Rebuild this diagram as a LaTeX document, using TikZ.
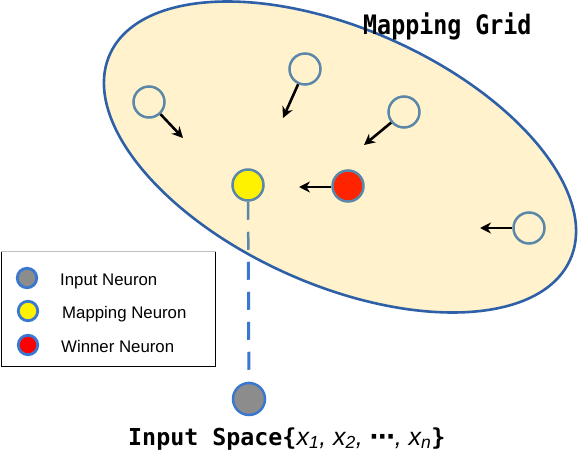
\documentclass[tikz,border=0pt]{standalone}
\usepackage{fontspec}
\setmainfont{Liberation Sans}
\newfontfamily\monof{DejaVu Sans Mono}
\newfontfamily\symf{DejaVu Sans}
\usetikzlibrary{arrows.meta}
\definecolor{ellfillc}{HTML}{FFF2CC}
\definecolor{elldraw}{HTML}{2E60A8}
\definecolor{neurgray}{HTML}{5B87A8}
\definecolor{legblue}{HTML}{3A78D0}
\definecolor{inpgray}{HTML}{8C8C8C}
\definecolor{mapyel}{HTML}{FFF200}
\definecolor{winred}{HTML}{FF2400}
\pgfdeclarelayer{lineback}
\pgfdeclarelayer{ellfilllayer}
\pgfdeclarelayer{linefront}
\pgfsetlayers{lineback,ellfilllayer,linefront,main}
\tikzset{
  neuron/.style={circle, draw=neurgray, line width=2.5pt, minimum size=31pt, inner sep=0pt},
  legneuron/.style={circle, draw=legblue, line width=2.8pt, minimum size=19.5pt, inner sep=0pt},
  moverarrow/.style={line width=2.6pt, -{Stealth[length=11pt,width=11pt]}},
  dashline/.style={line width=3pt, dash pattern=on 18pt off 12pt},
  legtext/.style={anchor=base west, inner sep=0pt, font=\fontsize{16.8}{19}\selectfont},
  monotext/.style={anchor=base west, inner sep=0pt, font=\fontsize{23.3}{28}\monof\bfseries},
  gridellipse/.style={rotate around={-24:(340,157)}}
}
\begin{document}
\begin{tikzpicture}[x=1pt,y=-1pt]
\useasboundingbox (0,0) rectangle (578,452);

% ellipse (fill on its own layer)
\begin{pgfonlayer}{ellfilllayer}
\fill[ellfillc, gridellipse] (340,157) ellipse [x radius=252pt, y radius=128pt];
\end{pgfonlayer}
\draw[elldraw, line width=2.6pt, gridellipse] (340,157) ellipse [x radius=252pt, y radius=128pt];

% neurons in the grid
\node[neuron] (n1) at (149,102) {};
\node[neuron] (n2) at (305,69) {};
\node[neuron] (n3) at (404,112) {};
\node[neuron] (n5) at (529,228) {};
\node[neuron, fill=mapyel] (map) at (248,185) {};
\node[neuron, fill=winred] (win) at (348,186) {};

% input neuron
\node[circle, draw=legblue, line width=2.5pt, minimum size=32pt, inner sep=0pt, fill=inpgray] (inp) at (249,399) {};

% arrow tips
\coordinate (t1) at (183,138);
\coordinate (t2) at (283,118);
\coordinate (t3) at (364,145);
\coordinate (t4) at (299,187);
\coordinate (t5) at (480,228);

\draw[moverarrow] (n1) -- (t1);
\draw[moverarrow] (n2) -- (t2);
\draw[moverarrow] (n3) -- (t3);
\draw[moverarrow] (win.west |- t4) -- (t4);
\draw[moverarrow] (n5) -- (t5);

% dashed link
\begin{pgfonlayer}{lineback}
\draw[dashline, legblue] (map) -- (inp);
\end{pgfonlayer}
\begin{pgfonlayer}{linefront}
\begin{scope}
\clip[gridellipse] (340,157) ellipse [x radius=252pt, y radius=128pt];
\draw[dashline, neurgray, line width=2.5pt] (map) -- (inp);
\end{scope}
\end{pgfonlayer}

% titles
\node[monotext] (title) at (363,35) {\scalebox{1}[1.15]{Mapping Grid}};
\node[monotext] (inspace) at (128,445) {Input Space\{{\fontsize{25}{28}\selectfont\mdseries\rmfamily\itshape x\textsubscript{1}, x\textsubscript{2}, {\upshape\symf\bfseries ⋯}, x\textsubscript{n}}\}};

% legend
\node[draw=black, line width=1pt, minimum width=214pt, minimum height=115pt, anchor=north west, inner sep=0pt] (legend) at (1,251) {};
\draw[gray!50, line width=1pt] (legend.north west) -- (legend.north east);
\node[legneuron, fill=inpgray] (lg1) at (27,278) {};
\node[legneuron, fill=yellow] (lg2) at (28,311) {};
\node[legneuron, fill=red] (lg3) at (28,345) {};
\node[legtext] (lt1) at (60,285) {Input Neuron};
\node[legtext] (lt2) at (62,318) {Mapping Neuron};
\node[legtext] (lt3) at (61,352) {Winner Neuron};
\end{tikzpicture}
\end{document}
